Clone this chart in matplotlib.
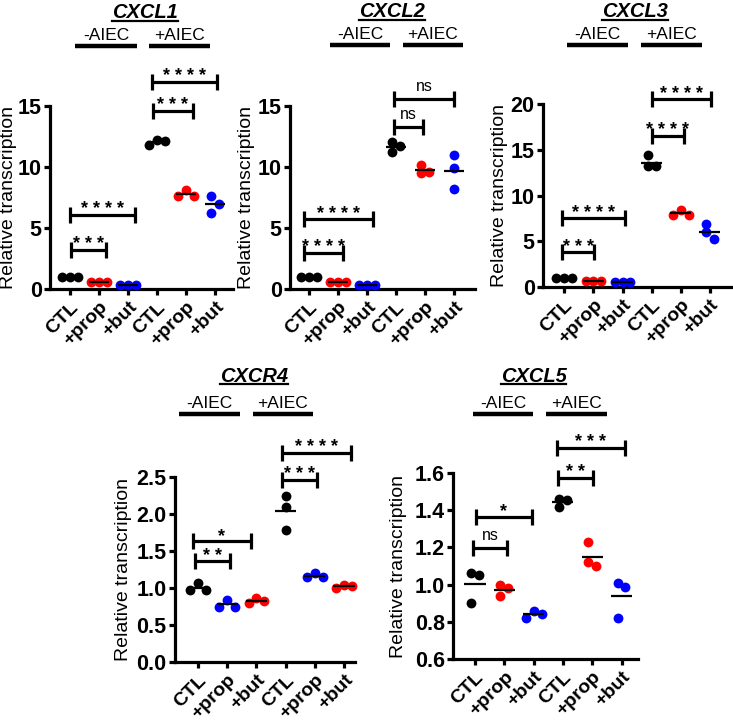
import numpy as np
import matplotlib
matplotlib.use("Agg")
import matplotlib.pyplot as plt
from matplotlib.lines import Line2D

plt.rcParams['font.family'] = ['Liberation Sans', 'DejaVu Sans']

W, H = 733, 724

GROUPS = ["CTL", "+prop", "+but", "CTL", "+prop", "+but"]

# three replicates per group
CXCL1 = [[1.0, 1.0, 1.0], [0.6, 0.6, 0.6], [0.35, 0.35, 0.35],
         [11.8, 12.2, 12.1], [7.6, 8.1, 7.6], [7.6, 7.0, 6.2]]
CXCL2 = [[1.0, 1.0, 1.0], [0.55, 0.55, 0.55], [0.35, 0.35, 0.35],
         [12.05, 11.2, 11.7], [10.2, 9.5, 9.6], [11.0, 9.9, 8.2]]
CXCL3 = [[1.0, 1.0, 1.0], [0.7, 0.7, 0.7], [0.5, 0.5, 0.5],
         [14.4, 13.2, 13.2], [8.4, 7.9, 7.9], [6.9, 6.0, 5.2]]
CXCR4 = [[1.07, 0.97, 0.97], [0.84, 0.75, 0.75], [0.86, 0.80, 0.82],
         [2.25, 2.10, 1.78], [1.20, 1.15, 1.15], [1.00, 1.03, 1.04]]
CXCL5 = [[1.06, 1.05, 0.90], [1.00, 0.98, 0.94], [0.82, 0.86, 0.84],
         [1.415, 1.46, 1.455], [1.23, 1.10, 1.12], [1.01, 0.985, 0.82]]

COLORS = ['black', 'red', 'blue', 'black', 'red', 'blue']
COLORS_CXCR4 = ['black', 'blue', 'red', 'black', 'blue', 'red']

# significance brackets: (x start, x end, y, label)
SIG_CXCL1 = [(0.02, 1.24, 3.2, '***'), (0.0, 2.24, 6.1, '****'),
             (2.87, 4.23, 14.6, '***'), (2.84, 5.06, 17.0, '****')]
SIG_CXCL2 = [(-0.17, 1.17, 2.95, '****'), (-0.17, 2.2, 5.7, '****'),
             (2.93, 3.93, 13.3, 'ns'), (2.93, 5.0, 15.6, 'ns')]
SIG_CXCL3 = [(-0.07, 1.03, 3.8, '***'), (-0.07, 2.09, 7.5, '****'),
             (3.0, 4.1, 16.5, '****'), (3.0, 5.03, 20.5, '****')]
SIG_CXCR4 = [(-0.1, 1.1, 1.36, '**'), (-0.16, 1.8, 1.63, '*'),
             (2.87, 4.07, 2.46, '***'), (2.87, 5.23, 2.83, '****')]
SIG_CXCL5 = [(-0.06, 1.08, 1.197, 'ns'), (0.03, 1.94, 1.365, '*'),
             (2.84, 4.04, 1.573, '**'), (2.79, 5.12, 1.736, '***')]

PANELS = [
    dict(name='CXCL1', vals=CXCL1, colors=COLORS, sig=SIG_CXCL1,
         box=(50, 233, 106, 289), tick0=70, sp=29, ylim=(0, 15),
         yticks=[0, 5, 10, 15], fmt='%d', title=(145, 18),
         bars=[(75, 137), (149, 210)], bar_y=45.5, lab_y=39.5, ylab=33),
    dict(name='CXCL2', vals=CXCL2, colors=COLORS, sig=SIG_CXCL2,
         box=(290, 475, 106, 289), tick0=309, sp=29, ylim=(0, 15),
         yticks=[0, 5, 10, 15], fmt='%d', title=(392, 17),
         bars=[(330, 390), (403, 463)], bar_y=45, lab_y=39, ylab=35),
    dict(name='CXCL3', vals=CXCL3, colors=COLORS, sig=SIG_CXCL3,
         box=(543, 732, 104, 287), tick0=564.3, sp=29.1, ylim=(0, 20),
         yticks=[0, 5, 10, 15, 20], fmt='%d', title=(635, 17),
         bars=[(567, 628), (641, 702)], bar_y=45, lab_y=39, ylab=35),
    dict(name='CXCR4', vals=CXCR4, colors=COLORS_CXCR4, sig=SIG_CXCR4,
         box=(175, 355, 477, 662), tick0=198, sp=29.2, ylim=(0, 2.5),
         yticks=[0, 0.5, 1.0, 1.5, 2.0, 2.5], fmt='%.1f', title=(254, 381.5),
         bars=[(179, 240), (253, 313)], bar_y=413.5, lab_y=407.5, ylab=43),
    dict(name='CXCL5', vals=CXCL5, colors=COLORS, sig=SIG_CXCL5,
         box=(453, 638, 473, 659), tick0=475, sp=29.3, ylim=(0.6, 1.6),
         yticks=[0.6, 0.8, 1.0, 1.2, 1.4, 1.6], fmt='%.1f', title=(533.5, 381.5),
         bars=[(473, 533), (546, 607)], bar_y=413.5, lab_y=407.5, ylab=46),
]

LW = 2.3


def fx(x):
    return x / W


def fy(y):
    return 1 - y / H


def swarm(vals, px_x, px_y, step=0.27, dmin=7.5):
    vals = np.asarray(vals, float)
    offs = np.zeros(len(vals))
    placed = []
    for i in np.argsort(-vals, kind='stable'):
        for cand in [0, step, -step, 2 * step, -2 * step]:
            if all(np.hypot((cand - o) * px_x, (vals[i] - v) * px_y) >= dmin
                   for o, v in placed):
                break
        offs[i] = cand
        placed.append((cand, vals[i]))
    return offs - (offs.max() + offs.min()) / 2


fig = plt.figure(figsize=(W / 100, H / 100), dpi=100)
renderer = fig.canvas.get_renderer()

for p in PANELS:
    x0, x1, yt, yb = p['box']
    ax = fig.add_axes([fx(x0), fy(yb), (x1 - x0) / W, (yb - yt) / H])
    xlim = ((x0 - p['tick0']) / p['sp'], (x1 - p['tick0']) / p['sp'])
    ax.set_xlim(xlim)
    ax.set_ylim(p['ylim'])
    px_y = (yb - yt) / (p['ylim'][1] - p['ylim'][0])

    for i, (v, c) in enumerate(zip(p['vals'], p['colors'])):
        offs = swarm(v, p['sp'], px_y)
        ax.scatter(i + offs, v, s=50, color=c, linewidths=0, zorder=3, clip_on=False)
        m = np.mean(v)
        ax.plot([i - 0.36, i + 0.36], [m, m], color='black', lw=1.6,
                zorder=4, solid_capstyle='butt', clip_on=False)

    for xa, xb, y, lab in p['sig']:
        ax.plot([xa, xb], [y, y], color='black', lw=LW, marker='|', ms=11.5,
                mew=LW, solid_capstyle='butt', clip_on=False)
        if lab == 'ns':
            ax.annotate(lab, xy=((xa + xb) / 2, y), xytext=(0, 5.5),
                        textcoords='offset points', ha='center', va='baseline',
                        fontsize=11.5, annotation_clip=False)
        else:
            ax.annotate(' '.join(lab), xy=((xa + xb) / 2, y), xytext=(0, 0.5),
                        textcoords='offset points', ha='center', va='baseline',
                        fontsize=13, fontweight='bold', annotation_clip=False)

    for s in ['top', 'right']:
        ax.spines[s].set_visible(False)
    for s in ['left', 'bottom']:
        ax.spines[s].set_linewidth(LW)
    ax.set_xticks(range(len(GROUPS)))
    ax.set_xticklabels(GROUPS, rotation=45, ha='right', va='top',
                       rotation_mode='anchor', fontweight='bold', fontsize=14)
    ax.set_yticks(p['yticks'])
    ax.set_yticklabels([p['fmt'] % t for t in p['yticks']],
                       fontweight='bold', fontsize=15.5)
    ax.tick_params(width=LW, length=4.5, pad=1.5)
    ax.tick_params(axis='x', pad=2.5)
    ax.set_ylabel('Relative transcription', fontsize=14)
    ax.yaxis.set_label_coords(-p['ylab'] / (x1 - x0), 0.5)

    # title with underline
    tx, ty = p['title']
    t = fig.text(fx(tx), fy(ty), p['name'], ha='center', va='baseline',
                 fontsize=14.5, fontweight='bold', fontstyle='italic')
    bb = t.get_window_extent(renderer)
    fig.add_artist(Line2D([bb.x0 / W, bb.x1 / W], [fy(ty + 2.5)] * 2,
                          transform=fig.transFigure, color='black', lw=1.6))

    # -AIEC / +AIEC headers
    for (bx0, bx1), lab in zip(p['bars'], ['-AIEC', '+AIEC']):
        fig.add_artist(Line2D([fx(bx0), fx(bx1)], [fy(p['bar_y'])] * 2,
                              transform=fig.transFigure, color='black', lw=3.2,
                              solid_capstyle='butt'))
        fig.text(fx((bx0 + bx1) / 2), fy(p['lab_y']), lab, ha='center',
                 va='baseline', fontsize=12.5)

fig.savefig('out.png', dpi=100)
